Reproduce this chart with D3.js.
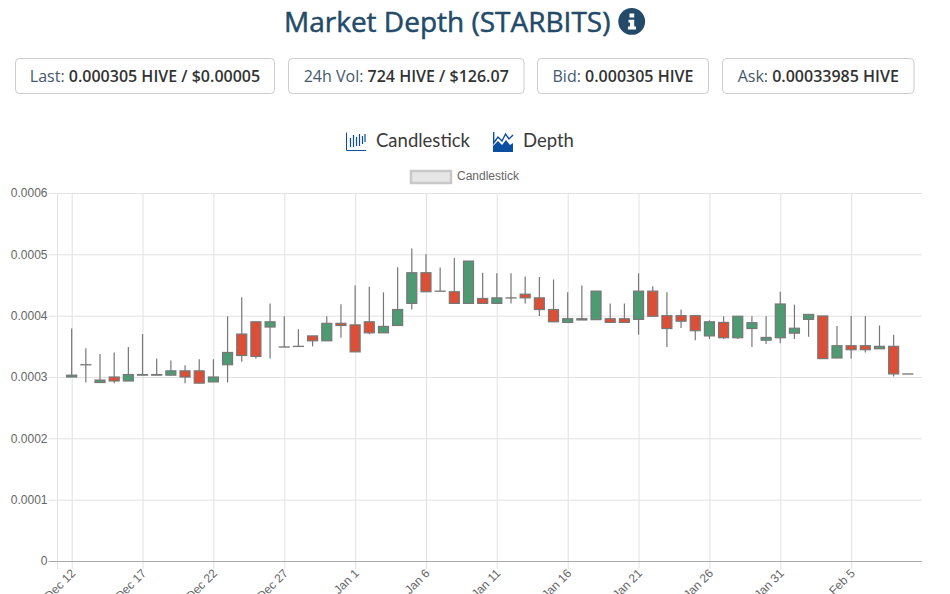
<!DOCTYPE html>
<html>
<head>
<meta charset="utf-8">
<script src="https://cdnjs.cloudflare.com/ajax/libs/d3/7.8.5/d3.min.js"></script>
<style>
html, body { margin: 0; padding: 0; background: #fff; overflow: hidden; }
svg { display: block; }
</style>
</head>
<body>
<div id="chart"></div>
<script>
/*Values are in units of 0.0001 HIVE*/
var days = ["2021-12-12","2021-12-13","2021-12-14","2021-12-15","2021-12-16","2021-12-17","2021-12-18","2021-12-19","2021-12-20","2021-12-21",
  "2021-12-22","2021-12-23","2021-12-24","2021-12-25","2021-12-26","2021-12-27","2021-12-28","2021-12-29","2021-12-30","2021-12-31",
  "2022-01-01","2022-01-02","2022-01-03","2022-01-04","2022-01-05","2022-01-06","2022-01-07","2022-01-08","2022-01-09","2022-01-10",
  "2022-01-11","2022-01-12","2022-01-13","2022-01-14","2022-01-15","2022-01-16","2022-01-17","2022-01-18","2022-01-19","2022-01-20",
  "2022-01-21","2022-01-22","2022-01-23","2022-01-24","2022-01-25","2022-01-26","2022-01-27","2022-01-28","2022-01-29","2022-01-30",
  "2022-01-31","2022-02-01","2022-02-02","2022-02-03","2022-02-04","2022-02-05","2022-02-06","2022-02-07","2022-02-08","2022-02-09"];
var opens = [3.00,3.20,2.91,3.00,2.935,3.03,3.03,3.03,3.10,3.10,
  2.92,3.20,3.70,3.90,3.815,3.49,3.50,3.67,3.59,3.875,
  3.85,3.90,3.72,3.84,4.20,4.70,4.40,4.39,4.20,4.28,
  4.20,4.29,4.35,4.29,4.10,3.89,3.93,3.935,3.95,3.95,
  3.94,4.40,4.00,4.00,4.00,3.67,3.89,3.64,3.79,3.60,
  3.64,3.715,3.94,3.995,3.31,3.51,3.51,3.46,3.50,3.05];
var closes = [3.03,3.20,2.95,2.935,3.04,3.04,3.04,3.10,3.00,2.90,
  3.00,3.40,3.35,3.335,3.90,3.49,3.50,3.59,3.875,3.84,
  3.41,3.72,3.825,4.10,4.70,4.39,4.40,4.20,4.89,4.20,
  4.29,4.29,4.29,4.10,3.90,3.95,3.95,4.40,3.89,3.89,
  4.40,3.99,3.79,3.91,3.755,3.90,3.64,3.99,3.885,3.645,
  4.19,3.795,4.02,3.30,3.51,3.445,3.445,3.50,3.05,3.05];
var highs = [3.79,3.47,3.375,3.40,3.49,3.70,3.30,3.27,3.19,3.29,
  3.29,3.99,4.30,3.90,4.20,3.99,3.78,3.67,3.99,4.185,
  4.49,4.47,4.38,4.79,5.095,5.00,4.785,4.94,4.89,4.70,
  4.69,4.69,4.64,4.63,4.59,4.38,4.49,4.40,4.20,4.20,
  4.69,4.48,4.38,4.10,4.00,3.925,3.99,3.99,3.99,3.99,
  4.39,4.18,4.02,3.995,3.83,3.995,3.995,3.84,3.69,3.05];
var lows = [3.00,2.91,2.91,2.90,2.935,3.03,3.03,3.03,2.90,2.90,
  2.92,2.91,3.25,3.30,3.30,3.49,3.50,3.50,3.59,3.64,
  3.41,3.695,3.72,3.84,4.10,4.39,4.40,4.20,4.20,4.20,
  4.20,4.20,4.20,3.995,3.90,3.89,3.93,3.935,3.89,3.89,
  3.69,3.99,3.49,3.80,3.60,3.62,3.62,3.62,3.49,3.54,
  3.55,3.62,3.655,3.30,3.31,3.30,3.40,3.46,3.01,3.05];
var yTicks = [0, 0.0001, 0.0002, 0.0003, 0.0004, 0.0005, 0.0006];
var xTickDays = ["2021-12-12","2021-12-17","2021-12-22","2021-12-27","2022-01-01","2022-01-06","2022-01-11","2022-01-16","2022-01-21","2022-01-26","2022-01-31","2022-02-05"];
var domainDays = ["2021-12-11","2022-02-10"];
var infoBoxes = [
  {label: "Last: ", value: "0.000305 HIVE / $0.00005", x: 15, w: 259},
  {label: "24h Vol: ", value: "724 HIVE / $126.07", x: 288, w: 235.5},
  {label: "Bid: ", value: "0.000305 HIVE", x: 537, w: 171},
  {label: "Ask: ", value: "0.00033985 HIVE", x: 722, w: 191.5}
];

var canvasWidth = 950;
var canvasHeight = 594;
var parseDay = d3.utcParse("%Y-%m-%d");

var svg = d3.select("#chart")
    .append("svg")
    .attr("width", canvasWidth)
    .attr("height", canvasHeight)
    .attr("viewBox", "0 0 950 594");

/*Header*/
var uiFont = "'Open Sans', sans-serif";
svg.append("text")
    .attr("x", 284).attr("y", 32)
    .attr("font-family", uiFont).attr("font-size", 28).attr("font-weight", 500)
    .attr("fill", "#234a68").attr("stroke", "#234a68").attr("stroke-width", 0.5)
    .text("Market Depth (STARBITS)");

svg.append("circle")
    .attr("cx", 631.7).attr("cy", 21.4).attr("r", 13.4)
    .attr("fill", "#234a68");
svg.append("path")
    .attr("d", "M629.5 13.5H634.2V17.5H629.5ZM628.5 19.8H634.2V26.6H636V29.4H628V26.6H630V22.4H628.5Z")
    .attr("fill", "#fff");

var boxes = svg.selectAll(".info")
    .data(infoBoxes)
    .join("g")
    .attr("class", "info");
boxes.append("rect")
    .attr("x", d => d.x + 0.5).attr("y", 58.5)
    .attr("width", d => d.w).attr("height", 35)
    .attr("rx", 4)
    .attr("fill", "#fff").attr("stroke", "#ccc");
var boxText = boxes.append("text")
    .attr("x", d => d.x + d.w / 2 + 0.5).attr("y", 82)
    .attr("text-anchor", "middle")
    .attr("font-family", uiFont).attr("font-size", 16);
boxText.append("tspan").attr("fill", "#44596b").text(d => d.label);
boxText.append("tspan").attr("fill", "#333").attr("font-weight", 600).text(d => d.value);

/*Tabs*/
var tabBlue = "#0b4ea2";
var tabs = svg.append("g");
tabs.append("path")
    .attr("d", "M346.5 132.5V150.5H366")
    .attr("fill", "none").attr("stroke", tabBlue);
tabs.append("path")
    .attr("d", "M350.5 138V147M353.5 135V147M356.5 137V146M359.5 134V146M362.5 136V144M365 134V142")
    .attr("fill", "none").attr("stroke", tabBlue).attr("stroke-width", 1.2);
tabs.append("text")
    .attr("x", 376).attr("y", 147)
    .attr("font-family", "Lato, sans-serif").attr("font-size", 18.5)
    .attr("fill", "#3a3a3a").text("Candlestick");
tabs.append("path")
    .attr("d", "M493 152V146L498 141L502 145L506 140L510 145L513 143V152Z")
    .attr("fill", tabBlue);
tabs.append("path")
    .attr("d", "M493.7 132V143L498 137L502 141L505.5 134L509 139L513 135")
    .attr("fill", "none").attr("stroke", tabBlue).attr("stroke-width", 1.4);
tabs.append("text")
    .attr("x", 523).attr("y", 147)
    .attr("font-family", "Lato, sans-serif").attr("font-size", 18.5)
    .attr("fill", "#3a3a3a").text("Depth");

/*Legend*/
svg.append("rect")
    .attr("x", 411).attr("y", 171)
    .attr("width", 40).attr("height", 12)
    .attr("fill", "#e6e6e6").attr("stroke", "#c8c8c8").attr("stroke-width", 2.5);
svg.append("text")
    .attr("x", 457).attr("y", 180)
    .attr("font-family", "'Liberation Sans', Arial, sans-serif").attr("font-size", 12)
    .attr("fill", "#666").text("Candlestick");

/*Scales*/
var xScale = d3.scaleUtc()
    .domain(domainDays.map(parseDay))
    .range([57.5, 922]);
var yScale = d3.scaleLinear()
    .domain([0, 0.0006])
    .range([561, 193]);

var axisFont = "'Liberation Sans', Arial, sans-serif";

/*X axis, the ticks are the vertical grid lines*/
var xAxis = svg.append("g")
    .attr("transform", "translate(0,561)")
    .call(d3.axisBottom(xScale)
        .tickValues(xTickDays.map(parseDay))
        .tickFormat(d3.utcFormat("%b %-d"))
        .tickSize(8));
xAxis.select(".domain").remove();
xAxis.selectAll(".tick line")
    .attr("y1", -368)
    .attr("stroke", "#e2e2e2");
xAxis.selectAll(".tick text")
    .attr("font-family", axisFont).attr("font-size", 12)
    .attr("fill", "#666")
    .attr("text-anchor", "end")
    .attr("x", 0).attr("y", 0).attr("dy", 0)
    .attr("transform", "translate(4,13) rotate(-45)");

/*Y axis, the ticks are the horizontal grid lines*/
var yAxis = svg.append("g")
    .attr("transform", "translate(57.5,0)")
    .call(d3.axisLeft(yScale)
        .tickValues(yTicks)
        .tickFormat(d => d === 0 ? "0" : d3.format(".4f")(d))
        .tickSize(9)
        .tickPadding(1));
yAxis.select(".domain").attr("stroke", "#e2e2e2").attr("d", "M0,193V569");
yAxis.selectAll(".tick line")
    .attr("x2", 864.5)
    .attr("x1", -9)
    .attr("stroke", d => d === 0 ? "#aaa" : "#e2e2e2");
yAxis.selectAll(".tick text")
    .attr("font-family", axisFont).attr("font-size", 12)
    .attr("fill", "#666");

/*Candles*/
var candleData = days.map(function(d, i) {
    return {day: parseDay(d), open: opens[i] / 10000, close: closes[i] / 10000, high: highs[i] / 10000, low: lows[i] / 10000};
});
var bodyWidth = 10;

var candles = svg.append("g")
    .selectAll(".candle")
    .data(candleData)
    .join("g")
    .attr("class", "candle");

candles.append("line")
    .attr("x1", d => xScale(d.day)).attr("x2", d => xScale(d.day))
    .attr("y1", d => yScale(d.high)).attr("y2", d => yScale(d.low))
    .attr("stroke", "#777").attr("stroke-width", 1.2);

/*A rect of height 0 is not painted, flat candles need a small height*/
candles.append("rect")
    .attr("x", d => xScale(d.day) - bodyWidth / 2)
    .attr("y", d => yScale(Math.max(d.open, d.close)))
    .attr("width", bodyWidth)
    .attr("height", d => Math.max(Math.abs(yScale(d.open) - yScale(d.close)), 0.1))
    .attr("fill", d => d.close > d.open ? "#4d9a73" : "#dc4f37")
    .attr("stroke", "#777").attr("stroke-width", 1.2);
</script>
</body>
</html>
